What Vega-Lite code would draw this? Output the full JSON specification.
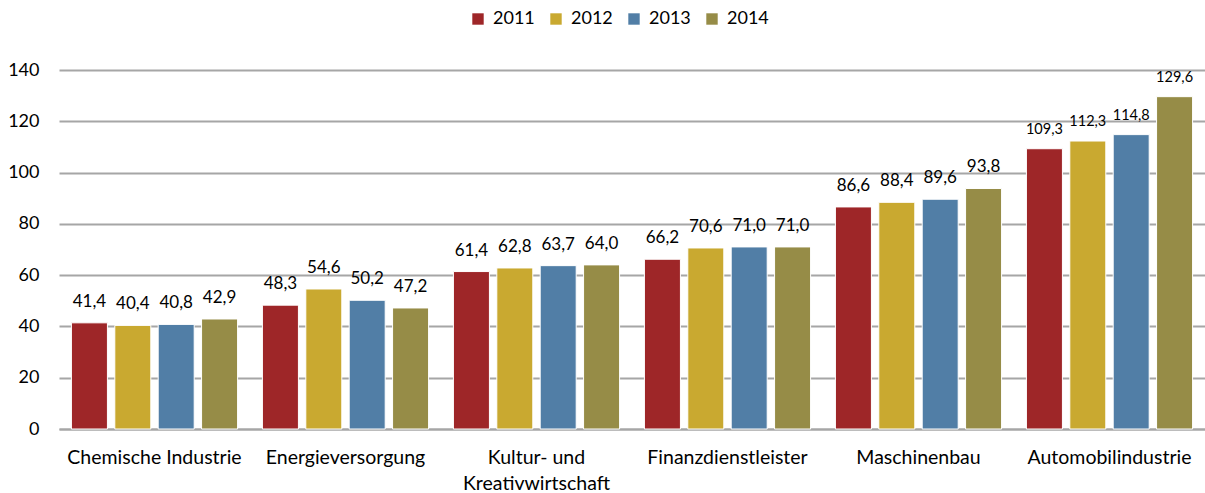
{
  "$schema": "https://vega.github.io/schema/vega-lite/v6.json",
  "width": 1205,
  "height": 493,
  "autosize": {"type": "fit", "contains": "padding"},
  "padding": {"left": 7, "top": 61, "right": 0, "bottom": 0},
  "background": "white",
  "data": {
    "values": [
      {"branche": "Chemische Industrie", "jahr": "2011", "wert": 41.4},
      {"branche": "Chemische Industrie", "jahr": "2012", "wert": 40.4},
      {"branche": "Chemische Industrie", "jahr": "2013", "wert": 40.8},
      {"branche": "Chemische Industrie", "jahr": "2014", "wert": 42.9},
      {"branche": "Energieversorgung", "jahr": "2011", "wert": 48.3},
      {"branche": "Energieversorgung", "jahr": "2012", "wert": 54.6},
      {"branche": "Energieversorgung", "jahr": "2013", "wert": 50.2},
      {"branche": "Energieversorgung", "jahr": "2014", "wert": 47.2},
      {"branche": "Kultur- und Kreativwirtschaft", "jahr": "2011", "wert": 61.4},
      {"branche": "Kultur- und Kreativwirtschaft", "jahr": "2012", "wert": 62.8},
      {"branche": "Kultur- und Kreativwirtschaft", "jahr": "2013", "wert": 63.7},
      {"branche": "Kultur- und Kreativwirtschaft", "jahr": "2014", "wert": 64.0},
      {"branche": "Finanzdienstleister", "jahr": "2011", "wert": 66.2},
      {"branche": "Finanzdienstleister", "jahr": "2012", "wert": 70.6},
      {"branche": "Finanzdienstleister", "jahr": "2013", "wert": 71.0},
      {"branche": "Finanzdienstleister", "jahr": "2014", "wert": 71.0},
      {"branche": "Maschinenbau", "jahr": "2011", "wert": 86.6},
      {"branche": "Maschinenbau", "jahr": "2012", "wert": 88.4},
      {"branche": "Maschinenbau", "jahr": "2013", "wert": 89.6},
      {"branche": "Maschinenbau", "jahr": "2014", "wert": 93.8},
      {"branche": "Automobilindustrie", "jahr": "2011", "wert": 109.3},
      {"branche": "Automobilindustrie", "jahr": "2012", "wert": 112.3},
      {"branche": "Automobilindustrie", "jahr": "2013", "wert": 114.8},
      {"branche": "Automobilindustrie", "jahr": "2014", "wert": 129.6}
    ]
  },
  "encoding": {
    "x": {
      "field": "branche",
      "type": "nominal",
      "sort": null,
      "scale": {"paddingInner": 0.13, "paddingOuter": 0.065},
      "axis": {
        "title": null,
        "labelAngle": 0,
        "labelFont": "Lato",
        "labelFontSize": 19.5,
        "labelColor": "#000000",
        "labelPadding": 19,
        "labelLineHeight": 26,
        "labelExpr": "datum.value == 'Kultur- und Kreativwirtschaft' ? ['Kultur- und', 'Kreativwirtschaft'] : datum.value",
        "ticks": false,
        "domainColor": "#A6A6A6",
        "domainWidth": 2
      }
    },
    "xOffset": {"field": "jahr", "type": "nominal", "scale": {"paddingInner": 0.17}},
    "y": {
      "field": "wert",
      "type": "quantitative",
      "scale": {"domain": [0, 140]},
      "axis": {
        "title": null,
        "values": [0, 20, 40, 60, 80, 100, 120, 140],
        "labelFont": "Lato",
        "labelFontSize": 18,
        "labelColor": "#000000",
        "labelPadding": 20,
        "ticks": false,
        "domain": false,
        "gridColor": "#A6A6A6",
        "gridWidth": 2
      }
    }
  },
  "layer": [
    {
      "mark": {"type": "bar", "stroke": "white", "strokeWidth": 1},
      "encoding": {
        "color": {
          "field": "jahr",
          "type": "nominal",
          "scale": {"domain": ["2011", "2012", "2013", "2014"], "range": ["#9E2628", "#C9A930", "#517EA6", "#968C47"]},
          "legend": {
            "title": null,
            "orient": "none",
            "direction": "horizontal",
            "legendX": 410,
            "legendY": -60,
            "symbolType": "square",
            "symbolSize": 130,
            "symbolStrokeWidth": 0,
            "labelFont": "Lato",
            "labelFontSize": 18,
            "labelColor": "#000000",
            "columnPadding": 12,
            "labelOffset": 6
          }
        }
      }
    },
    {
      "mark": {"type": "text", "baseline": "bottom", "dy": -12, "font": "Lato", "color": "#000000"},
      "encoding": {
        "text": {"field": "wert", "type": "quantitative", "format": ".1f"},
        "size": {"condition": {"test": "datum.wert >= 100", "value": 14.5}, "value": 17}
      }
    }
  ],
  "config": {
    "view": {"stroke": null},
    "locale": {"number": {"decimal": ",", "thousands": ".", "grouping": [3], "currency": ["", " €"]}}
  }
}
